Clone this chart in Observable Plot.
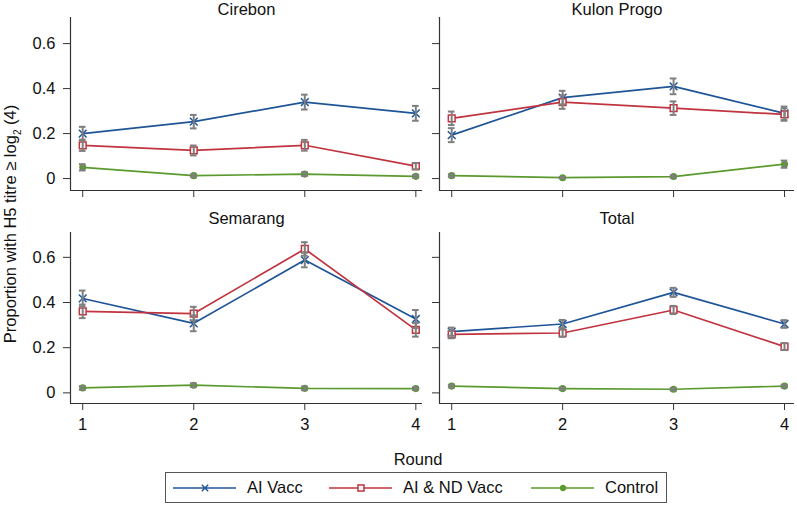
<!DOCTYPE html>
<html>
<head>
<meta charset="utf-8">
<script src="https://cdn.jsdelivr.net/npm/d3@7"></script>
<script src="https://cdn.jsdelivr.net/npm/@observablehq/plot@0.6"></script>
<style>
  html, body { margin: 0; padding: 0; background: #fff; }
  #wrap { position: relative; width: 797px; height: 505px; overflow: hidden; font-family: "Liberation Sans", Arial, sans-serif; color: #111; }
  .panel { position: absolute; }
  .panel svg { background: transparent !important; }
  #ylab { position: absolute; left: 12px; top: 224px; transform: translate(-50%, -50%) rotate(-90deg); white-space: nowrap; font-size: 16.5px; }
  #xlab { position: absolute; left: 418px; top: 459px; transform: translate(-50%, -50%); font-size: 16.5px; }
  #legend { position: absolute; left: 165px; top: 472px; width: 502px; height: 31px; border: 1px solid #555; box-sizing: border-box; font-size: 16.5px; }
  .li { position: absolute; top: 0; height: 29px; display: flex; align-items: center; }
  .li svg { margin-right: 10px; }
</style>
</head>
<body>
<div id="wrap">
  <div id="p0" class="panel"></div>
  <div id="p1" class="panel"></div>
  <div id="p2" class="panel"></div>
  <div id="p3" class="panel"></div>
  <div id="ylab">Proportion with H5 titre ≥ log<sub style="font-size:10px">2</sub> (4)</div>
  <div id="xlab">Round</div>
  <div id="legend"></div>
</div>
<script>
// ---- data ----
const rounds = [1, 2, 3, 4];
const groups = ["AI Vacc", "AI & ND Vacc", "Control"];
const regions = ["Cirebon", "Kulon Progo", "Semarang", "Total"];
const yTicks = [0, 0.2, 0.4, 0.6];

const cirebonAI = [0.200, 0.253, 0.340, 0.290];
const cirebonAIerr = [0.030, 0.030, 0.033, 0.033];
const cirebonAIND = [0.148, 0.125, 0.148, 0.055];
const cirebonAINDerr = [0.025, 0.022, 0.024, 0.014];
const cirebonCtrl = [0.050, 0.013, 0.020, 0.010];
const cirebonCtrlErr = [0.014, 0.005, 0.008, 0.006];

const kulonAI = [0.193, 0.360, 0.410, 0.290];
const kulonAIerr = [0.031, 0.030, 0.035, 0.030];
const kulonAIND = [0.268, 0.340, 0.313, 0.285];
const kulonAINDerr = [0.030, 0.030, 0.030, 0.028];
const kulonCtrl = [0.013, 0.004, 0.009, 0.064];
const kulonCtrlErr = [0.006, 0.003, 0.005, 0.016];

const semarangAI = [0.418, 0.308, 0.588, 0.327];
const semarangAIerr = [0.035, 0.035, 0.032, 0.040];
const semarangAIND = [0.361, 0.351, 0.637, 0.279];
const semarangAINDerr = [0.030, 0.030, 0.030, 0.030];
const semarangCtrl = [0.022, 0.034, 0.020, 0.019];
const semarangCtrlErr = [0.008, 0.008, 0.008, 0.006];

const totalAI = [0.271, 0.305, 0.445, 0.305];
const totalAIerr = [0.018, 0.018, 0.020, 0.017];
const totalAIND = [0.259, 0.265, 0.367, 0.205];
const totalAINDerr = [0.017, 0.017, 0.018, 0.015];
const totalCtrl = [0.030, 0.019, 0.016, 0.030];
const totalCtrlErr = [0.006, 0.005, 0.005, 0.006];

const series = {
  "Cirebon": [[cirebonAI, cirebonAIerr], [cirebonAIND, cirebonAINDerr], [cirebonCtrl, cirebonCtrlErr]],
  "Kulon Progo": [[kulonAI, kulonAIerr], [kulonAIND, kulonAINDerr], [kulonCtrl, kulonCtrlErr]],
  "Semarang": [[semarangAI, semarangAIerr], [semarangAIND, semarangAINDerr], [semarangCtrl, semarangCtrlErr]],
  "Total": [[totalAI, totalAIerr], [totalAIND, totalAINDerr], [totalCtrl, totalCtrlErr]]
};

const colors = ["#1f5597", "#c0343f", "#5a9a2e"];
const symbols = ["times", "square", "circle"];
const FS = 16.5;

// ---- panels ----
const layout = [
  {left: 0,   top: 0,   width: 425, ml: 70, mr: 3,  mt: 17, mb: 12, fh: 173, yd: [-0.053, 0.716], xd: [0.89, 4.06], labelsY: true,  labelsX: false, tdy: -8},
  {left: 425, top: 0,   width: 372, ml: 14, mr: 3,  mt: 17, mb: 12, fh: 173, yd: [-0.053, 0.716], xd: [0.89, 4.09], labelsY: false, labelsX: false, tdy: -8},
  {left: 0,   top: 200, width: 425, ml: 70, mr: 3,  mt: 32, mb: 34, fh: 171, yd: [-0.047, 0.710], xd: [0.89, 4.06], labelsY: true,  labelsX: true,  tdy: -14},
  {left: 425, top: 200, width: 372, ml: 14, mr: 3,  mt: 32, mb: 34, fh: 171, yd: [-0.047, 0.710], xd: [0.89, 4.09], labelsY: false, labelsX: true,  tdy: -14}
];

regions.forEach((region, i) => {
  const L = layout[i];
  const rows = [];
  series[region].forEach(([vals, errs], g) => {
    rounds.forEach((r, k) => rows.push({group: groups[g], g, round: r, v: vals[k], e: errs[k]}));
  });
  const capHalf = 0.03;
  const marks = [
    Plot.ruleX([L.xd[0]], {stroke: "#333", strokeWidth: 1.2}),
    Plot.ruleY([L.yd[0]], {stroke: "#333", strokeWidth: 1.2}),
    Plot.axisY({ticks: yTicks, tickSize: 7, tickPadding: 8, fontSize: FS, stroke: "#333",
      tickFormat: L.labelsY ? (d => d === 0 ? "0" : d.toFixed(1)) : () => "", label: null}),
    Plot.axisX({ticks: rounds, tickSize: 7, tickPadding: 8, fontSize: FS, stroke: "#333",
      tickFormat: L.labelsX ? (d => String(d)) : () => "", label: null, anchor: "bottom"}),
    Plot.text([region], {frameAnchor: "top", lineAnchor: "middle", dy: L.tdy, fontSize: FS, fill: "#111"})
  ];
  groups.forEach((grp, g) => {
    const d = rows.filter(r => r.g === g);
    marks.push(Plot.line(d, {x: "round", y: "v", stroke: colors[g], strokeWidth: 1.7}));
  });
  groups.forEach((grp, g) => {
    const d = rows.filter(r => r.g === g);
    marks.push(Plot.dot(d, {x: "round", y: "v", symbol: () => symbols[g], r: g === 1 ? 3.8 : (g === 0 ? 3.6 : 2.8),
      stroke: colors[g], fill: g === 1 ? "white" : (g === 2 ? colors[g] : "none"), strokeWidth: 1.5}));
  });
  marks.push(Plot.ruleX(rows, {x: "round", y1: d => d.v - d.e, y2: d => d.v + d.e, stroke: "#7f7f7f", strokeWidth: 2}));
  marks.push(Plot.ruleY(rows, {y: d => d.v - d.e, x1: d => d.round - capHalf, x2: d => d.round + capHalf, stroke: "#7f7f7f", strokeWidth: 2}));
  marks.push(Plot.ruleY(rows, {y: d => d.v + d.e, x1: d => d.round - capHalf, x2: d => d.round + capHalf, stroke: "#7f7f7f", strokeWidth: 2}));

  const chart = Plot.plot({
    width: L.width,
    height: L.mt + L.fh + L.mb,
    marginLeft: L.ml, marginRight: L.mr, marginTop: L.mt, marginBottom: L.mb,
    x: {domain: L.xd, axis: null},
    y: {domain: L.yd, axis: null},
    style: {fontFamily: "Liberation Sans, Arial, sans-serif", fontSize: FS + "px", background: "transparent", color: "#111"},
    marks
  });
  const host = document.getElementById("p" + i);
  host.style.left = L.left + "px";
  host.style.top = L.top + "px";
  host.appendChild(chart);
});

// ---- legend ----
const legend = document.getElementById("legend");
const legendX = [7, 163, 365];
groups.forEach((grp, g) => {
  const item = document.createElement("div");
  item.className = "li";
  item.style.left = legendX[g] + "px";
  const ns = "http://www.w3.org/2000/svg";
  const s = document.createElementNS(ns, "svg");
  s.setAttribute("width", 64); s.setAttribute("height", 12);
  const ln = document.createElementNS(ns, "line");
  ln.setAttribute("x1", 0); ln.setAttribute("x2", 63); ln.setAttribute("y1", 6); ln.setAttribute("y2", 6);
  ln.setAttribute("stroke", colors[g]); ln.setAttribute("stroke-width", 1.7);
  s.appendChild(ln);
  const sym = d3.symbol().type([d3.symbolTimes, d3.symbolSquare, d3.symbolCircle][g]).size([28, 36, 20][g]);
  const p = document.createElementNS(ns, "path");
  p.setAttribute("d", sym());
  p.setAttribute("transform", "translate(32,6)");
  p.setAttribute("stroke", colors[g]);
  p.setAttribute("stroke-width", 1.5);
  p.setAttribute("fill", g === 1 ? "white" : (g === 2 ? colors[g] : "none"));
  s.appendChild(p);
  item.appendChild(s);
  const t = document.createElement("span");
  t.textContent = grp;
  item.appendChild(t);
  legend.appendChild(item);
});
</script>
</body>
</html>
